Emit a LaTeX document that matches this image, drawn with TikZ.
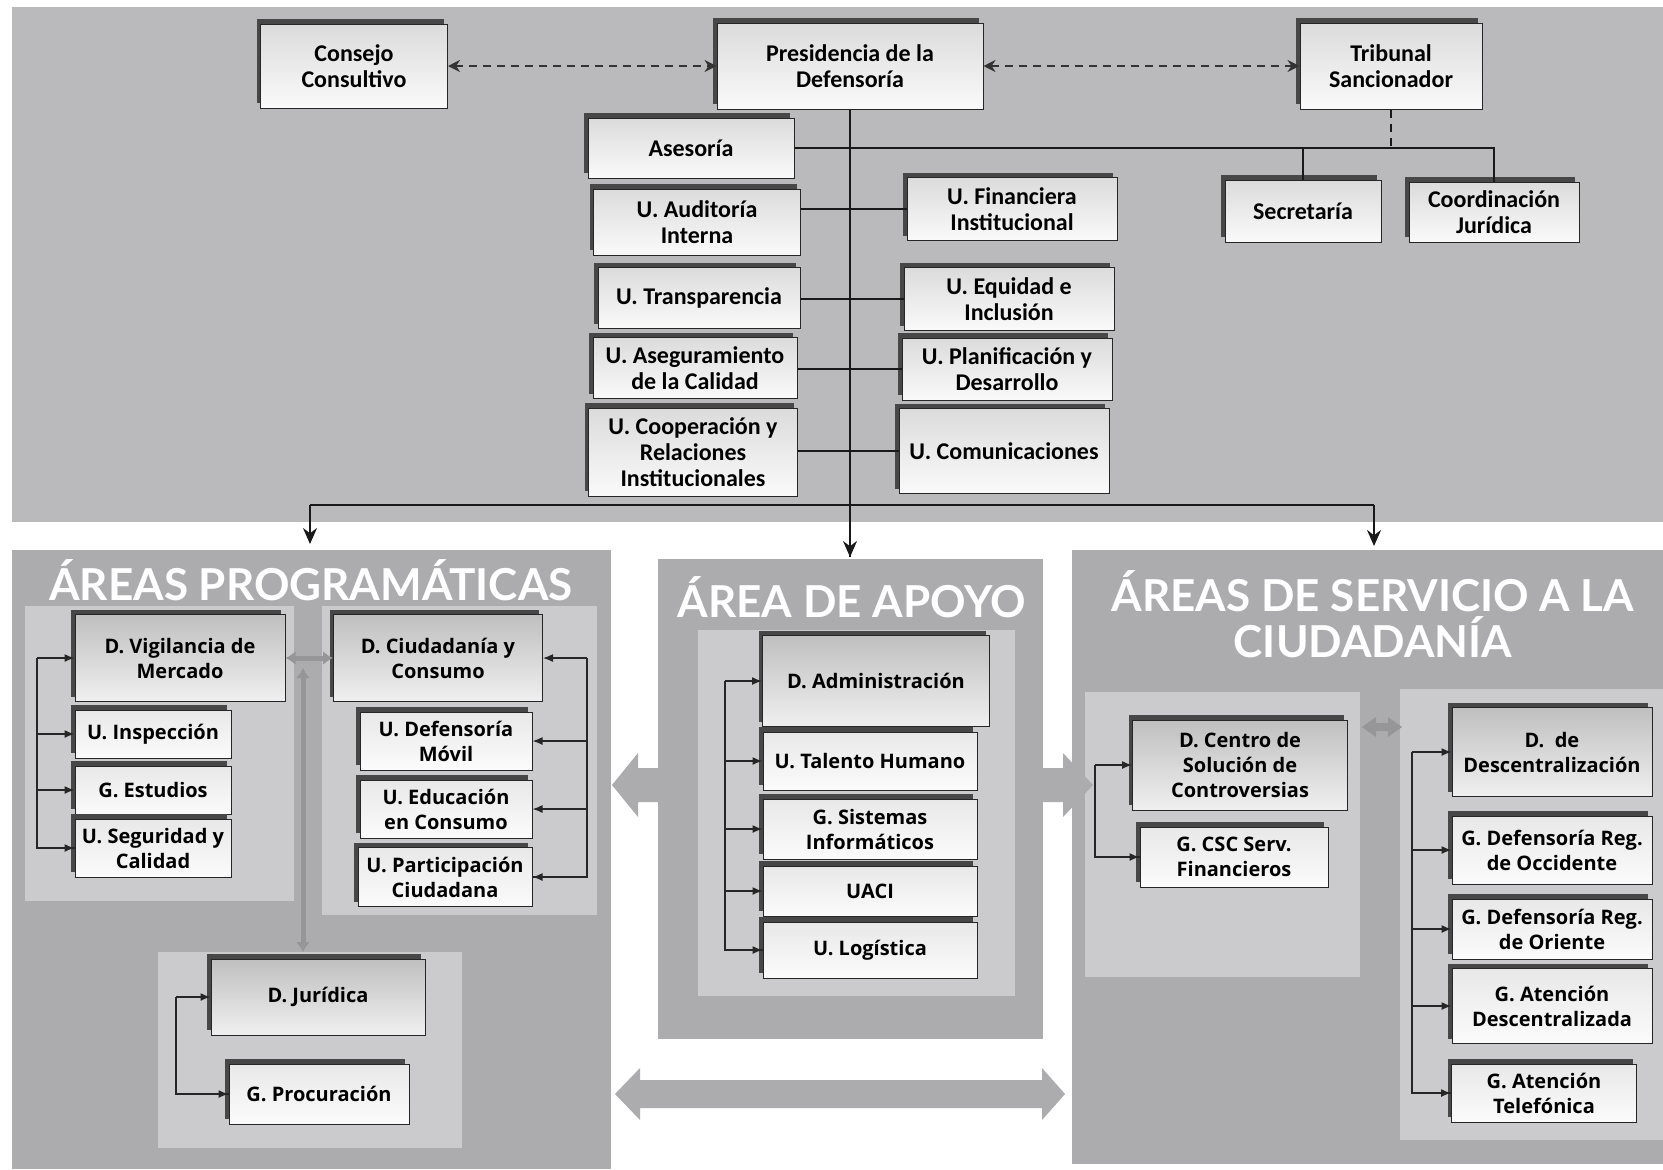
\documentclass[tikz,border=0pt]{standalone}
\usepackage{fontspec}
\setmainfont{Carlito}
\newfontfamily\lowfont{Open Sans}
\newfontfamily\titlefont{Lato}
\usetikzlibrary{arrows.meta,shadows}
\definecolor{band}{RGB}{186,186,189}
\definecolor{panel}{RGB}{172,172,175}
\definecolor{inner}{RGB}{203,203,206}
\definecolor{gconn}{RGB}{150,150,153}
\begin{document}
\begin{tikzpicture}[x=0.5pt,y=-0.5pt,
  wh/.style 2 args={minimum width=#1*0.5pt, minimum height=#2*0.5pt},
  box/.style={draw=black!85, line width=0.5pt, align=center, inner sep=1pt,
    general shadow={fill=black!72, shadow xshift=-2pt, shadow yshift=2.5pt}},
  topbox/.style={box, top color=gray!28, bottom color=gray!4,
    font=\bfseries\fontsize{12}{13}\selectfont},
  lowbox/.style={box, top color=gray!18, bottom color=gray!3,
    font=\lowfont\bfseries\fontsize{10}{12.5}\selectfont},
  dbox/.style={lowbox, top color=gray!50, bottom color=gray!12},
  title/.style={text=white, align=center, inner sep=0pt,
    font=\titlefont\bfseries\fontsize{22}{23}\selectfont},
  link/.style={draw=black!90, line width=1pt},
  dlink/.style={draw=black!80, line width=1.2pt, dash pattern=on 4pt off 3pt},
  dtips/.style={{Stealth[length=6pt,width=6pt]}-{Stealth[length=6pt,width=6pt]}},
  blink/.style={draw=black!85, line width=0.7pt, -{Latex[length=5pt,width=4pt]}},
  bline/.style={draw=black!85, line width=0.7pt},
  glink/.style={draw=gconn, line width=2.5pt, {Latex[length=5pt,width=7pt]}-{Latex[length=5pt,width=7pt]}},
  bigarrow/.style={fill=panel}
]
\useasboundingbox (0,0) rectangle (1663,1169);
\fill[white] (0,0) rectangle (1663,1169);

% ---------- backgrounds ----------
\fill[band] (12,7) rectangle (1663,522);
\fill[panel] (12,550) rectangle (611,1169);
\fill[panel] (658,559) rectangle (1043,1039);
\fill[panel] (1072,550) rectangle (1663,1164);
\fill[inner] (25,606) rectangle (294,901);
\fill[inner] (322,606) rectangle (597,915);
\fill[inner] (158,952) rectangle (462,1148);
\fill[inner] (698,630) rectangle (1015,996);
\fill[inner] (1085,692) rectangle (1360,977);
\fill[inner] (1400,689) rectangle (1663,1140);

% ---------- block arrows ----------
\fill[bigarrow] (660,768) -- (638,768) -- (638,753) -- (612,785) -- (638,817) -- (638,802) -- (660,802) -- cycle;
\fill[bigarrow] (1041,768) -- (1063,768) -- (1063,753) -- (1093,785) -- (1063,817) -- (1063,802) -- (1041,802) -- cycle;
\fill[bigarrow] (615,1094) -- (640,1068) -- (640,1080) -- (1042,1080) -- (1042,1068) -- (1065,1094) -- (1042,1120) -- (1042,1108) -- (640,1108) -- (640,1120) -- cycle;
\fill[gconn] (1362,727) -- (1376,717) -- (1376,723) -- (1388,723) -- (1388,717) -- (1402,727) -- (1388,737) -- (1388,731) -- (1376,731) -- (1376,737) -- cycle;

% ---------- titles ----------
\node[title] (t1) at (311,580) {ÁREAS PROGRAMÁTICAS};
\node[title] (t2) at (852,597) {ÁREA DE APOYO};
\node[title, font=\titlefont\bfseries\fontsize{22}{23}\selectfont] (t3) at (1373,614) {ÁREAS DE SERVICIO A LA\\[0pt]CIUDADANÍA};

% ---------- top nodes ----------
\node[topbox, wh={187}{84}] (cons) at (354,66) {Consejo\\Consultivo};
\node[topbox, wh={266}{86}] (pres) at (850,66) {Presidencia de la\\Defensoría};
\node[topbox, wh={182}{86}] (trib) at (1391,66) {Tribunal\\Sancionador};
\node[topbox, wh={206}{60}] (ases) at (691,148) {Asesoría};
\node[topbox, wh={207}{66}] (aud) at (697,222) {U. Auditoría\\Interna};
\node[topbox, wh={202}{61}] (trans) at (699,298) {U. Transparencia};
\node[topbox, wh={204}{61}] (aseg) at (695,368) {U. Aseguramiento\\de la Calidad};
\node[topbox, wh={209}{88}] (coop) at (693,452) {U. Cooperación y\\Relaciones\\Institucionales};
\node[topbox, wh={210}{63}] (fin) at (1012,209) {U. Financiera\\Institucional};
\node[topbox, wh={210}{63}] (equ) at (1009,299) {U. Equidad e\\Inclusión};
\node[topbox, wh={210}{62}] (plan) at (1007,369) {U. Planificación y\\Desarrollo};
\node[topbox, wh={210}{85}] (com) at (1004,451) {U. Comunicaciones};
\node[topbox, wh={156}{62}] (sec) at (1303,211) {Secretaría};
\node[topbox, wh={170}{60}] (coord) at (1494,212) {Coordinación\\Jurídica};

% ---------- top connectors ----------
\draw[dlink, dtips] (cons.east) -- (pres.west);
\draw[dlink, dtips] (pres.east) -- (trib.west);
\coordinate (bl) at (310,505);
\coordinate (br) at (1374,505);
\coordinate (a1) at (310,544);
\coordinate (a2) at (850,557);
\coordinate (a3) at (1374,546);
\draw[link] (pres.south) -- (a2);
\draw[link, -{Stealth[length=8pt,width=7pt]}] (pres.south |- bl) -- (a2);
\draw[link] (bl) -- (br);
\draw[link, -{Stealth[length=8pt,width=7pt]}] (bl) -- (a1);
\draw[link, -{Stealth[length=8pt,width=7pt]}] (br) -- (a3);
\draw[link] (ases.east) -- (ases.east -| coord.north) -- (coord.north);
\draw[link] (sec.north |- ases.east) -- (sec.north);
\draw[link, dash pattern=on 4pt off 3pt] (trib.south) -- (trib.south |- ases.east);
\draw[link] (aud.east |- fin.west) -- (fin.west);
\draw[link] (trans.east |- equ.west) -- (equ.west);
\draw[link] (aseg.east |- plan.west) -- (plan.west);
\draw[link] (coop.east |- com.west) -- (com.west);

% ---------- areas programaticas ----------
\node[dbox, wh={210}{87}] (vm) at (180,658) {D. Vigilancia de\\Mercado};
\node[lowbox, wh={156}{48}] (insp) at (153,734) {U. Inspección};
\node[lowbox, wh={156}{48}] (estu) at (153,790) {G. Estudios};
\node[lowbox, wh={156}{58}] (segu) at (153,848) {U. Seguridad y\\Calidad};
\node[dbox, wh={209}{87}] (cc) at (438,658) {D. Ciudadanía y\\Consumo};
\node[lowbox, wh={172}{58}] (movil) at (446,741) {U. Defensoría\\Móvil};
\node[lowbox, wh={172}{58}] (educ) at (446,809) {U. Educación\\en Consumo};
\node[lowbox, wh={174}{59}] (part) at (445,877) {U. Participación\\Ciudadana};
\node[dbox, wh={214}{76}] (jur) at (318,997) {D. Jurídica};
\node[lowbox, wh={180}{60}] (proc) at (319,1094) {G. Procuración};

\coordinate (b1) at (37,658);
\draw[bline] (b1) |- (segu.west);
\draw[blink] (b1) -- (vm.west);
\draw[blink] (b1 |- insp.west) -- (insp.west);
\draw[blink] (b1 |- estu.west) -- (estu.west);
\draw[blink] (b1 |- segu.west) -- (segu.west);
\coordinate (b2) at (587,658);
\draw[bline] (b2) |- (part.east);
\draw[blink] (b2) -- (cc.east);
\draw[blink] (b2 |- movil.east) -- (movil.east);
\draw[blink] (b2 |- educ.east) -- (educ.east);
\draw[blink] (b2 |- part.east) -- (part.east);
\coordinate (b3) at (176,997);
\draw[bline] (b3) |- (proc.west);
\draw[blink] (b3) -- (jur.west);
\draw[blink] (b3 |- proc.west) -- (proc.west);

\draw[glink] (vm.east) -- (cc.west);
\coordinate (gtop) at (303,668);
\coordinate (gbot) at (303,952);
\draw[glink] (gtop) -- (gbot);

% ---------- area de apoyo ----------
\node[dbox, wh={227}{91}] (adm) at (876,681) {D. Administración};
\node[lowbox, wh={214}{58}] (th) at (870,761) {U. Talento Humano};
\node[lowbox, wh={214}{60}] (si) at (870,829) {G. Sistemas\\Informáticos};
\node[lowbox, wh={214}{50}] (uaci) at (870,891) {UACI};
\node[lowbox, wh={214}{56}] (logi) at (870,950) {U. Logística};
\coordinate (b4) at (725,681);
\draw[bline] (b4) |- (logi.west);
\draw[blink] (b4) -- (adm.west);
\draw[blink] (b4 |- th.west) -- (th.west);
\draw[blink] (b4 |- si.west) -- (si.west);
\draw[blink] (b4 |- uaci.west) -- (uaci.west);
\draw[blink] (b4 |- logi.west) -- (logi.west);

% ---------- areas de servicio ----------
\node[dbox, wh={215}{90}] (csc) at (1240,765) {D. Centro de\\Solución de\\Controversias};
\node[lowbox, wh={188}{60}] (cscf) at (1234,857) {G. CSC Serv.\\Financieros};
\coordinate (b5) at (1095,765);
\draw[bline] (b5) |- (cscf.west);
\draw[blink] (b5) -- (csc.west);
\draw[blink] (b5 |- cscf.west) -- (cscf.west);

\node[dbox, wh={200}{89}] (desc) at (1552,752) {D.\ \ de\\Descentralización};
\node[lowbox, wh={200}{68}] (occ) at (1552,850) {G. Defensoría Reg.\\de Occidente};
\node[lowbox, wh={200}{60}] (ori) at (1552,929) {G. Defensoría Reg.\\de Oriente};
\node[lowbox, wh={200}{75}] (atd) at (1552,1006) {G. Atención\\Descentralizada};
\node[lowbox, wh={185}{58}] (att) at (1544,1093) {G. Atención\\Telefónica};
\coordinate (b6) at (1412,752);
\draw[bline] (b6) |- (att.west);
\draw[blink] (b6) -- (desc.west);
\draw[blink] (b6 |- occ.west) -- (occ.west);
\draw[blink] (b6 |- ori.west) -- (ori.west);
\draw[blink] (b6 |- atd.west) -- (atd.west);
\draw[blink] (b6 |- att.west) -- (att.west);
\end{tikzpicture}
\end{document}
